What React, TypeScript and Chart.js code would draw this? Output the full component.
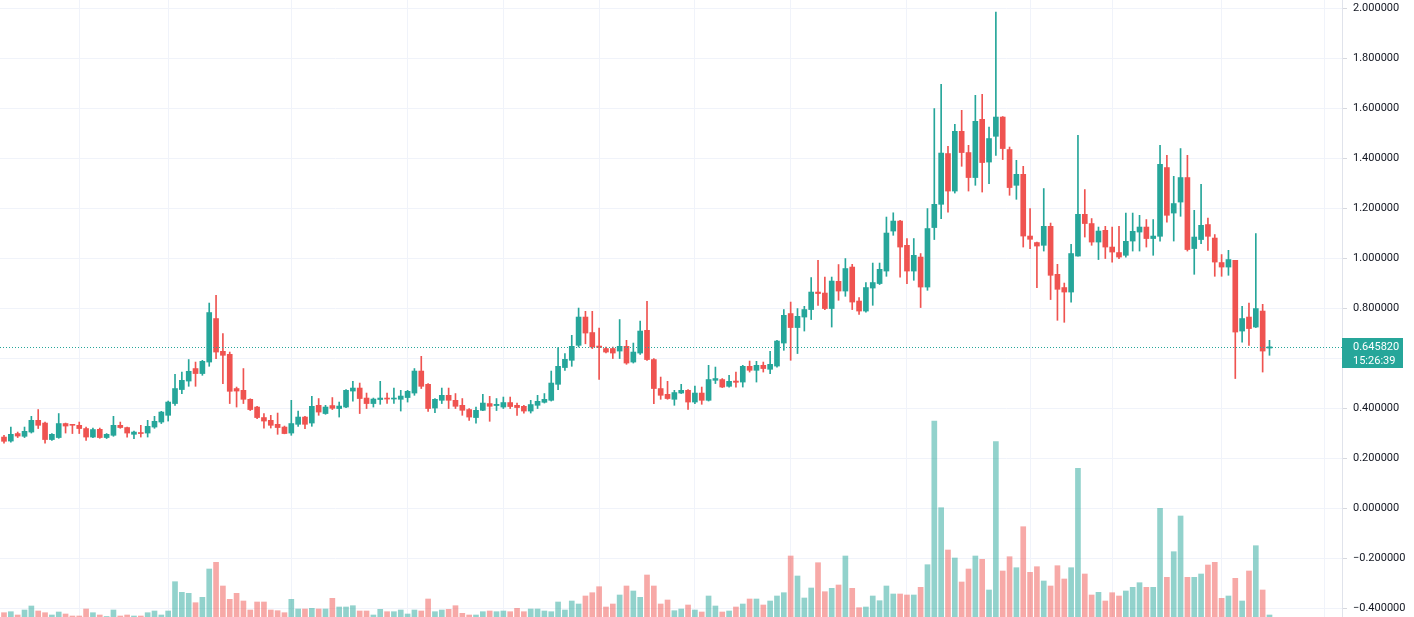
import React, { useEffect, useRef } from 'react';
import { Chart, registerables } from 'chart.js';

Chart.register(...registerables);

// ---- Data ----
const opens = [
  0.285, 0.269, 0.299, 0.288, 0.305, 0.352, 0.341, 0.275, 0.283, 0.339,
  0.335, 0.332, 0.319, 0.285, 0.316, 0.283, 0.292, 0.332, 0.323, 0.296,
  0.301, 0.301, 0.325, 0.345, 0.372, 0.419, 0.475, 0.509, 0.559, 0.539,
  0.585, 0.759, 0.628, 0.616, 0.479, 0.472, 0.436, 0.405, 0.363, 0.352,
  0.336, 0.325, 0.301, 0.336, 0.365, 0.341, 0.412, 0.379, 0.411, 0.399,
  0.405, 0.469, 0.481, 0.441, 0.419, 0.435, 0.441, 0.437, 0.436, 0.443,
  0.461, 0.549, 0.496, 0.401, 0.432, 0.452, 0.432, 0.412, 0.395, 0.363,
  0.392, 0.419, 0.411, 0.405, 0.423, 0.412, 0.408, 0.389, 0.412, 0.424,
  0.432, 0.496, 0.563, 0.592, 0.652, 0.765, 0.703, 0.649, 0.639, 0.639,
  0.629, 0.648, 0.585, 0.621, 0.712, 0.595, 0.479, 0.456, 0.436, 0.461,
  0.472, 0.425, 0.461, 0.432, 0.512, 0.515, 0.488, 0.509, 0.505, 0.568,
  0.552, 0.572, 0.556, 0.569, 0.661, 0.779, 0.723, 0.765, 0.795, 0.865,
  0.861, 0.799, 0.908, 0.869, 0.965, 0.829, 0.789, 0.881, 0.899, 0.949,
  1.109, 1.149, 1.052, 0.949, 1.005, 0.885, 1.123, 1.216, 1.419, 1.269,
  1.508, 1.423, 1.323, 1.556, 1.385, 1.488, 1.565, 1.435, 1.292, 1.336,
  1.089, 1.063, 1.052, 1.128, 0.936, 0.883, 0.865, 1.009, 1.176, 1.139,
  1.065, 1.112, 1.045, 1.023, 1.012, 1.069, 1.105, 1.125, 1.079, 1.088,
  1.363, 1.181, 1.225, 1.323, 1.039, 1.075, 1.135, 1.081, 0.983, 0.965,
  0.992, 0.709, 0.765, 0.725, 0.789, 0.641,
];
const highs = [
  0.292, 0.325, 0.305, 0.325, 0.368, 0.395, 0.345, 0.299, 0.379, 0.341,
  0.336, 0.345, 0.325, 0.321, 0.321, 0.299, 0.368, 0.345, 0.325, 0.309,
  0.332, 0.352, 0.368, 0.388, 0.429, 0.536, 0.545, 0.595, 0.585, 0.592,
  0.821, 0.852, 0.699, 0.625, 0.485, 0.559, 0.438, 0.408, 0.379, 0.372,
  0.381, 0.329, 0.432, 0.389, 0.368, 0.448, 0.439, 0.412, 0.443, 0.425,
  0.475, 0.508, 0.501, 0.461, 0.441, 0.508, 0.461, 0.481, 0.472, 0.472,
  0.559, 0.608, 0.499, 0.439, 0.481, 0.481, 0.459, 0.439, 0.399, 0.405,
  0.456, 0.448, 0.439, 0.445, 0.445, 0.421, 0.412, 0.432, 0.452, 0.459,
  0.549, 0.643, 0.619, 0.692, 0.801, 0.788, 0.788, 0.721, 0.645, 0.645,
  0.755, 0.672, 0.661, 0.749, 0.828, 0.599, 0.525, 0.508, 0.472, 0.496,
  0.475, 0.489, 0.485, 0.572, 0.565, 0.519, 0.532, 0.545, 0.572, 0.589,
  0.588, 0.585, 0.628, 0.672, 0.795, 0.825, 0.799, 0.808, 0.923, 0.992,
  0.925, 0.925, 0.975, 0.999, 0.976, 0.843, 0.903, 0.981, 0.981, 1.165,
  1.182, 1.152, 1.079, 1.079, 1.019, 1.199, 1.599, 1.696, 1.448, 1.536,
  1.592, 1.452, 1.652, 1.656, 1.525, 1.985, 1.567, 1.445, 1.392, 1.368,
  1.199, 1.065, 1.279, 1.141, 0.976, 0.901, 1.056, 1.492, 1.275, 1.159,
  1.125, 1.128, 1.125, 1.128, 1.181, 1.181, 1.172, 1.155, 1.155, 1.452,
  1.412, 1.328, 1.439, 1.412, 1.192, 1.296, 1.161, 1.095, 1.015, 1.032,
  0.992, 0.808, 0.821, 1.099, 0.816, 0.672,
];
const lows = [
  0.261, 0.265, 0.283, 0.283, 0.301, 0.319, 0.261, 0.272, 0.280, 0.301,
  0.299, 0.299, 0.272, 0.283, 0.280, 0.279, 0.288, 0.320, 0.285, 0.279,
  0.285, 0.285, 0.320, 0.339, 0.349, 0.412, 0.459, 0.488, 0.488, 0.532,
  0.568, 0.599, 0.499, 0.419, 0.405, 0.419, 0.391, 0.359, 0.321, 0.321,
  0.296, 0.298, 0.292, 0.328, 0.319, 0.328, 0.372, 0.376, 0.395, 0.365,
  0.403, 0.429, 0.379, 0.399, 0.405, 0.416, 0.420, 0.420, 0.389, 0.425,
  0.452, 0.479, 0.388, 0.383, 0.419, 0.399, 0.399, 0.372, 0.352, 0.341,
  0.391, 0.348, 0.391, 0.399, 0.399, 0.372, 0.381, 0.381, 0.399, 0.421,
  0.429, 0.475, 0.552, 0.568, 0.645, 0.658, 0.639, 0.516, 0.622, 0.599,
  0.599, 0.576, 0.581, 0.616, 0.592, 0.419, 0.436, 0.436, 0.412, 0.459,
  0.396, 0.419, 0.416, 0.429, 0.499, 0.483, 0.485, 0.485, 0.485, 0.545,
  0.505, 0.545, 0.539, 0.565, 0.632, 0.592, 0.619, 0.709, 0.755, 0.812,
  0.795, 0.725, 0.832, 0.848, 0.795, 0.776, 0.785, 0.812, 0.895, 0.928,
  1.092, 0.925, 0.899, 0.912, 0.803, 0.872, 1.075, 1.159, 1.185, 1.261,
  1.368, 1.269, 1.292, 1.265, 1.299, 1.412, 1.395, 1.252, 1.236, 1.045,
  1.039, 0.883, 1.029, 0.835, 0.752, 0.744, 0.825, 1.009, 1.085, 1.052,
  0.995, 0.999, 0.985, 0.999, 1.005, 1.029, 1.029, 1.045, 1.012, 1.069,
  1.145, 1.069, 1.168, 1.029, 0.936, 1.059, 1.032, 0.928, 0.928, 0.932,
  0.519, 0.665, 0.652, 0.723, 0.545, 0.612,
];
const closes = [
  0.268, 0.296, 0.289, 0.308, 0.352, 0.332, 0.275, 0.296, 0.339, 0.329,
  0.332, 0.319, 0.285, 0.315, 0.283, 0.296, 0.332, 0.323, 0.301, 0.305,
  0.299, 0.328, 0.348, 0.385, 0.425, 0.479, 0.512, 0.548, 0.539, 0.588,
  0.783, 0.625, 0.612, 0.468, 0.469, 0.436, 0.395, 0.363, 0.349, 0.332,
  0.323, 0.299, 0.339, 0.365, 0.336, 0.408, 0.385, 0.405, 0.400, 0.409,
  0.472, 0.481, 0.439, 0.419, 0.437, 0.441, 0.437, 0.440, 0.449, 0.468,
  0.549, 0.488, 0.399, 0.436, 0.452, 0.432, 0.408, 0.392, 0.365, 0.392,
  0.421, 0.408, 0.416, 0.423, 0.407, 0.403, 0.389, 0.415, 0.428, 0.436,
  0.501, 0.568, 0.596, 0.648, 0.765, 0.701, 0.645, 0.643, 0.625, 0.621,
  0.648, 0.581, 0.625, 0.709, 0.595, 0.479, 0.452, 0.439, 0.463, 0.472,
  0.425, 0.461, 0.432, 0.515, 0.519, 0.485, 0.508, 0.504, 0.568, 0.552,
  0.572, 0.559, 0.576, 0.669, 0.772, 0.723, 0.768, 0.795, 0.865, 0.859,
  0.799, 0.909, 0.869, 0.959, 0.825, 0.789, 0.883, 0.903, 0.956, 1.101,
  1.149, 1.045, 0.949, 1.012, 0.885, 1.119, 1.216, 1.421, 1.269, 1.508,
  1.423, 1.323, 1.548, 1.383, 1.479, 1.565, 1.439, 1.283, 1.336, 1.089,
  1.076, 1.049, 1.128, 0.932, 0.876, 0.865, 1.019, 1.176, 1.139, 1.065,
  1.109, 1.045, 1.025, 1.005, 1.068, 1.108, 1.125, 1.079, 1.089, 1.376,
  1.172, 1.219, 1.323, 1.035, 1.085, 1.132, 1.088, 0.985, 0.965, 0.995,
  0.705, 0.759, 0.719, 0.799, 0.629, 0.64582,
];
const volumes = [
  4.3, 5.3, 2, 7, 11, 6, 4.3, 2, 5, 3,
  1, 1, 8, 4.3, 2, 0.5, 7, 1, 2, 1,
  1, 4.3, 6, 2, 6, 35.3, 24.7, 23.7, 14.3, 19.7,
  48, 54.7, 31, 17.7, 23.7, 16, 7, 15, 15, 7,
  6.3, 4.3, 17.7, 8, 8, 8.7, 8, 8, 18.7, 10,
  10, 11.3, 6, 6, 2, 7.7, 5.3, 5.3, 7, 3,
  7, 6, 18, 5.3, 7, 7.7, 11.3, 3.7, 2, 2,
  5.3, 6, 5.3, 6, 5.3, 8.7, 5.3, 8, 8, 6,
  5.3, 15, 7, 16, 13, 21, 24.3, 30.3, 10, 13,
  22, 31, 26, 19.7, 42, 31, 13, 17, 6.3, 8,
  12, 7, 5, 21, 11, 5, 6, 10, 13, 18,
  18, 12, 16, 21, 24.3, 61, 41, 19, 29, 54.3,
  25.3, 28.7, 32, 61, 28.7, 9.3, 10, 21, 16.3, 31,
  23, 23, 22, 22, 29.7, 52.3, 196, 109.3, 67, 59,
  35, 48, 61, 57.7, 27, 175.3, 46, 60.3, 49.3, 90.3,
  44.7, 50.3, 36, 31, 51.3, 38, 49.3, 148.7, 43, 22,
  24.7, 16, 24.3, 21, 26, 29.7, 34.3, 29.7, 29.7, 108.7,
  39.7, 65.3, 101, 39.7, 39.7, 43, 52, 54.7, 18.7, 21,
  38.7, 16, 46, 71.3, 27, 2,
];
const priceTicks = [-0.4, -0.2, 0, 0.2, 0.4, 0.6, 0.8, 1.0, 1.2, 1.4, 1.6, 1.8, 2.0];
const timeGridIdx = [11, 24, 42, 59, 73, 87, 101, 115, 132, 150, 162, 178, 193];
const lastPrice = 0.64582;
const lastPriceText = '0.645820';
const countdownText = '15:26:39';

const UP = '#26a69a';
const DOWN = '#ef5350';
const UP_VOL = 'rgba(38,166,154,0.5)';
const DOWN_VOL = 'rgba(239,83,80,0.5)';
const FONT = 'Roboto';

const fmt = (v: number) => {
  const s = Math.abs(v).toFixed(6);
  return v < -1e-9 ? '\u2212' + s : s;
};

const lastPricePlugin = {
  id: 'lastPrice',
  afterDatasetsDraw(chart: any) {
    const { ctx, chartArea, scales } = chart;
    const y = Math.round(scales.y.getPixelForValue(lastPrice)) + 0.5;
    ctx.save();
    ctx.strokeStyle = UP;
    ctx.lineWidth = 1;
    ctx.setLineDash([1, 2]);
    ctx.beginPath();
    ctx.moveTo(chartArea.left, y);
    ctx.lineTo(chartArea.right, y);
    ctx.stroke();
    ctx.restore();
  },
  afterDraw(chart: any) {
    const { ctx, chartArea, scales } = chart;
    const y = scales.y.getPixelForValue(lastPrice);
    ctx.save();
    ctx.fillStyle = UP;
    ctx.fillRect(chartArea.right, Math.round(y) - 9, 61, 30);
    ctx.fillStyle = '#ffffff';
    ctx.font = `11px ${FONT}`;
    ctx.textAlign = 'left';
    ctx.textBaseline = 'middle';
    ctx.fillText(lastPriceText, chartArea.right + 11, y);
    ctx.fillText(countdownText, chartArea.right + 11, y + 14);
    ctx.restore();
  },
};

export default function App() {
  const ref = useRef<HTMLCanvasElement | null>(null);

  useEffect(() => {
    if (!ref.current) return;
    const idx = opens.map((_, i) => i);
    const up = idx.map((i) => closes[i] >= opens[i]);

    const chart = new Chart(ref.current, {
      type: 'bar',
      data: {
        datasets: [
          {
            label: 'body',
            data: idx.map((i) => ({ x: i, y: [Math.min(opens[i], closes[i]), Math.max(opens[i], closes[i])] })) as any,
            backgroundColor: up.map((u) => (u ? UP : DOWN)),
            barThickness: 5,
            minBarLength: 1,
            grouped: false,
            order: 1,
            yAxisID: 'y',
            borderWidth: 0,
          } as any,
          {
            label: 'wick',
            data: idx.map((i) => ({ x: i, y: [lows[i], highs[i]] })) as any,
            backgroundColor: up.map((u) => (u ? UP : DOWN)),
            barThickness: 1,
            grouped: false,
            order: 2,
            yAxisID: 'y',
            borderWidth: 0,
          } as any,
          {
            label: 'volume',
            data: idx.map((i) => ({ x: i, y: volumes[i] })) as any,
            backgroundColor: up.map((u) => (u ? UP_VOL : DOWN_VOL)),
            barThickness: 5,
            grouped: false,
            order: 3,
            yAxisID: 'yv',
            borderWidth: 0,
          } as any,
        ],
      },
      options: {
        animation: false,
        responsive: false,
        devicePixelRatio: 1,
        layout: { padding: 0 },
        plugins: {
          legend: { display: false },
          tooltip: { enabled: false },
        },
        scales: {
          x: {
            type: 'linear',
            position: 'bottom',
            offset: false,
            min: -0.585,
            max: 195.6,
            afterBuildTicks: (s: any) => {
              s.ticks = timeGridIdx.map((v) => ({ value: v }));
            },
            afterFit: (s: any) => {
              s.height = 0;
              s.paddingLeft = 0;
              s.paddingRight = 0;
              s.paddingTop = 0;
              s.paddingBottom = 0;
            },
            ticks: { display: false },
            grid: { color: '#f0f3fa', drawTicks: false, offset: false },
            border: { display: false },
          },
          y: {
            type: 'linear',
            position: 'right',
            min: -0.4348,
            max: 2.0332,
            afterBuildTicks: (s: any) => {
              s.ticks = priceTicks.map((v) => ({ value: v }));
            },
            afterFit: (s: any) => {
              s.width = 72;
              s.paddingTop = 0;
              s.paddingBottom = 0;
            },
            ticks: {
              font: { family: FONT, size: 11 },
              color: '#131722',
              padding: 6,
              callback: (v: any) => fmt(Number(v)),
            },
            grid: { color: '#f0f3fa', tickColor: '#d6d8de', tickLength: 5, drawTicks: true },
            border: { display: true, color: '#e0e3eb' },
          },
          yv: {
            type: 'linear',
            display: false,
            min: 0,
            max: 617,
          },
        } as any,
      },
      plugins: [lastPricePlugin],
    });

    return () => chart.destroy();
  }, []);

  return (
    <div style={{ position: 'fixed', left: 0, top: 0, width: 1414, height: 617, background: '#ffffff' }}>
      <canvas ref={ref} width={1414} height={617} style={{ display: 'block' }} />
    </div>
  );
}
